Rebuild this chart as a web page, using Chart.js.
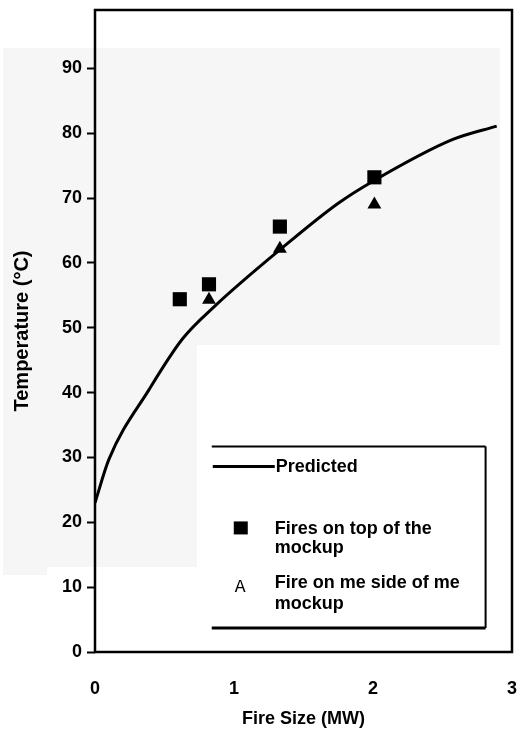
<!DOCTYPE html>
<html>
<head>
<meta charset="utf-8">
<script src="https://cdn.jsdelivr.net/npm/chart.js@4"></script>
<style>
  html, body { margin: 0; padding: 0; background: #fff; }
  #wrap { width: 522px; height: 734px; }
</style>
</head>
<body>
<div id="wrap"><canvas id="myChart" width="522" height="734"></canvas></div>
<script>
// values
const predictedX = [0, 0.1, 0.39, 0.63, 0.86, 1.34, 1.75, 2.0, 2.57, 2.89];
const predictedY = [23, 29.7, 40.5, 48.3, 53.3, 62.2, 69.2, 72.6, 79, 81.1];

const topX = [0.61, 0.82, 1.33, 2.01];
const topY = [54.4, 56.7, 65.6, 73.2];

const sideX = [0.82, 1.33, 2.01];
const sideY = [54.3, 62.2, 69.0];

const yTicks = [0, 10, 20, 30, 40, 50, 60, 70, 80, 90];
const xTicks = [0, 1, 2, 3];

const legendLabels = ["Predicted", ["Fires on top of the", "mockup"], ["Fire on me side of me", "mockup"]];

function pts(xs, ys) {
    return xs.map(function (x, i) { return { x: x, y: ys[i] }; });
}

const FONT = "'Liberation Sans', Arial, sans-serif";

// faint grey scan background
const scanBg = {
    id: "scanBg",
    beforeDraw: function (chart) {
        const ctx = chart.ctx;
        ctx.save();
        ctx.fillStyle = "#f6f6f6";
        ctx.fillRect(3, 48, 497, 297);
        ctx.fillRect(3, 345, 194, 222);
        ctx.fillRect(3, 567, 44, 8);
        ctx.restore();
    }
};

// frame round the plot and the hand-made legend box
const frameAndLegend = {
    id: "frameAndLegend",
    afterDraw: function (chart) {
        const ctx = chart.ctx;
        const a = chart.chartArea;
        const xs = chart.scales.x, ys = chart.scales.y;
        ctx.save();
        ctx.strokeStyle = "#000";
        ctx.lineWidth = 2.5;
        ctx.strokeRect(a.left, a.top, a.right - a.left, a.bottom - a.top);

        const L = xs.getPixelForValue(0.84), R = xs.getPixelForValue(2.81);
        const T = ys.getPixelForValue(31.7), B = ys.getPixelForValue(3.7);
        ctx.fillStyle = "#fff";
        ctx.fillRect(L, T, R - L, B - T);
        ctx.lineWidth = 2;
        ctx.beginPath(); ctx.moveTo(L, T); ctx.lineTo(R, T); ctx.stroke();
        ctx.beginPath(); ctx.moveTo(R, T); ctx.lineTo(R, B); ctx.stroke();
        ctx.lineWidth = 3;
        ctx.beginPath(); ctx.moveTo(L, B); ctx.lineTo(R, B); ctx.stroke();

        ctx.fillStyle = "#000";
        ctx.textBaseline = "middle";
        ctx.font = "bold 18px " + FONT;
        // predicted
        ctx.lineWidth = 3;
        ctx.beginPath(); ctx.moveTo(L + 1, T + 20); ctx.lineTo(L + 63, T + 20); ctx.stroke();
        ctx.fillText(legendLabels[0], L + 64, T + 21);
        // squares
        ctx.fillRect(L + 22, T + 75, 14, 13);
        ctx.fillText(legendLabels[1][0], L + 63, T + 83);
        ctx.fillText(legendLabels[1][1], L + 63, T + 102);
        // triangles (scanned as "A")
        ctx.font = "18px 'Liberation Mono', monospace";
        ctx.fillText("A", L + 23, T + 141);
        ctx.font = "bold 18px " + FONT;
        ctx.fillText(legendLabels[2][0], L + 63, T + 137);
        ctx.fillText(legendLabels[2][1], L + 63, T + 158);
        ctx.restore();
    }
};

const ctx = document.getElementById("myChart").getContext("2d");
const myChart = new Chart(ctx, {
    type: "scatter",
    data: {
        datasets: [
            {
                label: "Predicted",
                data: pts(predictedX, predictedY),
                showLine: true,
                borderColor: "#000",
                borderWidth: 3,
                pointRadius: 0,
                cubicInterpolationMode: "monotone",
                fill: false
            },
            {
                label: "Fires on top of the mockup",
                data: pts(topX, topY),
                pointStyle: "rect",
                pointRadius: 10,
                backgroundColor: "#000",
                borderColor: "#000",
                borderWidth: 0
            },
            {
                label: "Fire on the side of the mockup",
                data: pts(sideX, sideY),
                pointStyle: "triangle",
                pointRadius: 8,
                backgroundColor: "#000",
                borderColor: "#000",
                borderWidth: 0
            }
        ]
    },
    options: {
        responsive: false,
        animation: false,
        layout: { padding: { top: 10, right: 7, left: 0, bottom: 0 } },
        plugins: {
            legend: { display: false },
            tooltip: { enabled: false }
        },
        scales: {
            x: {
                type: "linear",
                min: 0,
                max: 3,
                afterBuildTicks: function (s) { s.ticks = xTicks.map(function (v) { return { value: v }; }); },
                afterFit: function (s) { s.height = 82; s.paddingLeft = 0; s.paddingRight = 0; },
                border: { display: false },
                grid: { display: false },
                ticks: {
                    color: "#000",
                    padding: 18,
                    font: { family: FONT, size: 18, weight: "bold" }
                },
                title: {
                    display: true,
                    text: "Fire Size (MW)",
                    color: "#000",
                    padding: { top: 2 },
                    font: { family: FONT, size: 18, weight: "bold" }
                }
            },
            y: {
                type: "linear",
                min: 0,
                max: 99,
                afterBuildTicks: function (s) { s.ticks = yTicks.map(function (v) { return { value: v }; }); },
                afterFit: function (s) { s.width = 95; s.paddingTop = 0; s.paddingBottom = 0; },
                border: { display: false },
                grid: { drawOnChartArea: false, tickLength: 8, color: "#000", tickWidth: 2 },
                ticks: {
                    color: "#000",
                    padding: 5,
                    font: { family: FONT, size: 18, weight: "bold" }
                },
                title: {
                    display: true,
                    text: "Temperature (°C)",
                    color: "#000",
                    padding: { top: 10, bottom: 6 },
                    font: { family: FONT, size: 20, weight: "bold" }
                }
            }
        }
    },
    plugins: [scanBg, frameAndLegend]
});
</script>
</body>
</html>
